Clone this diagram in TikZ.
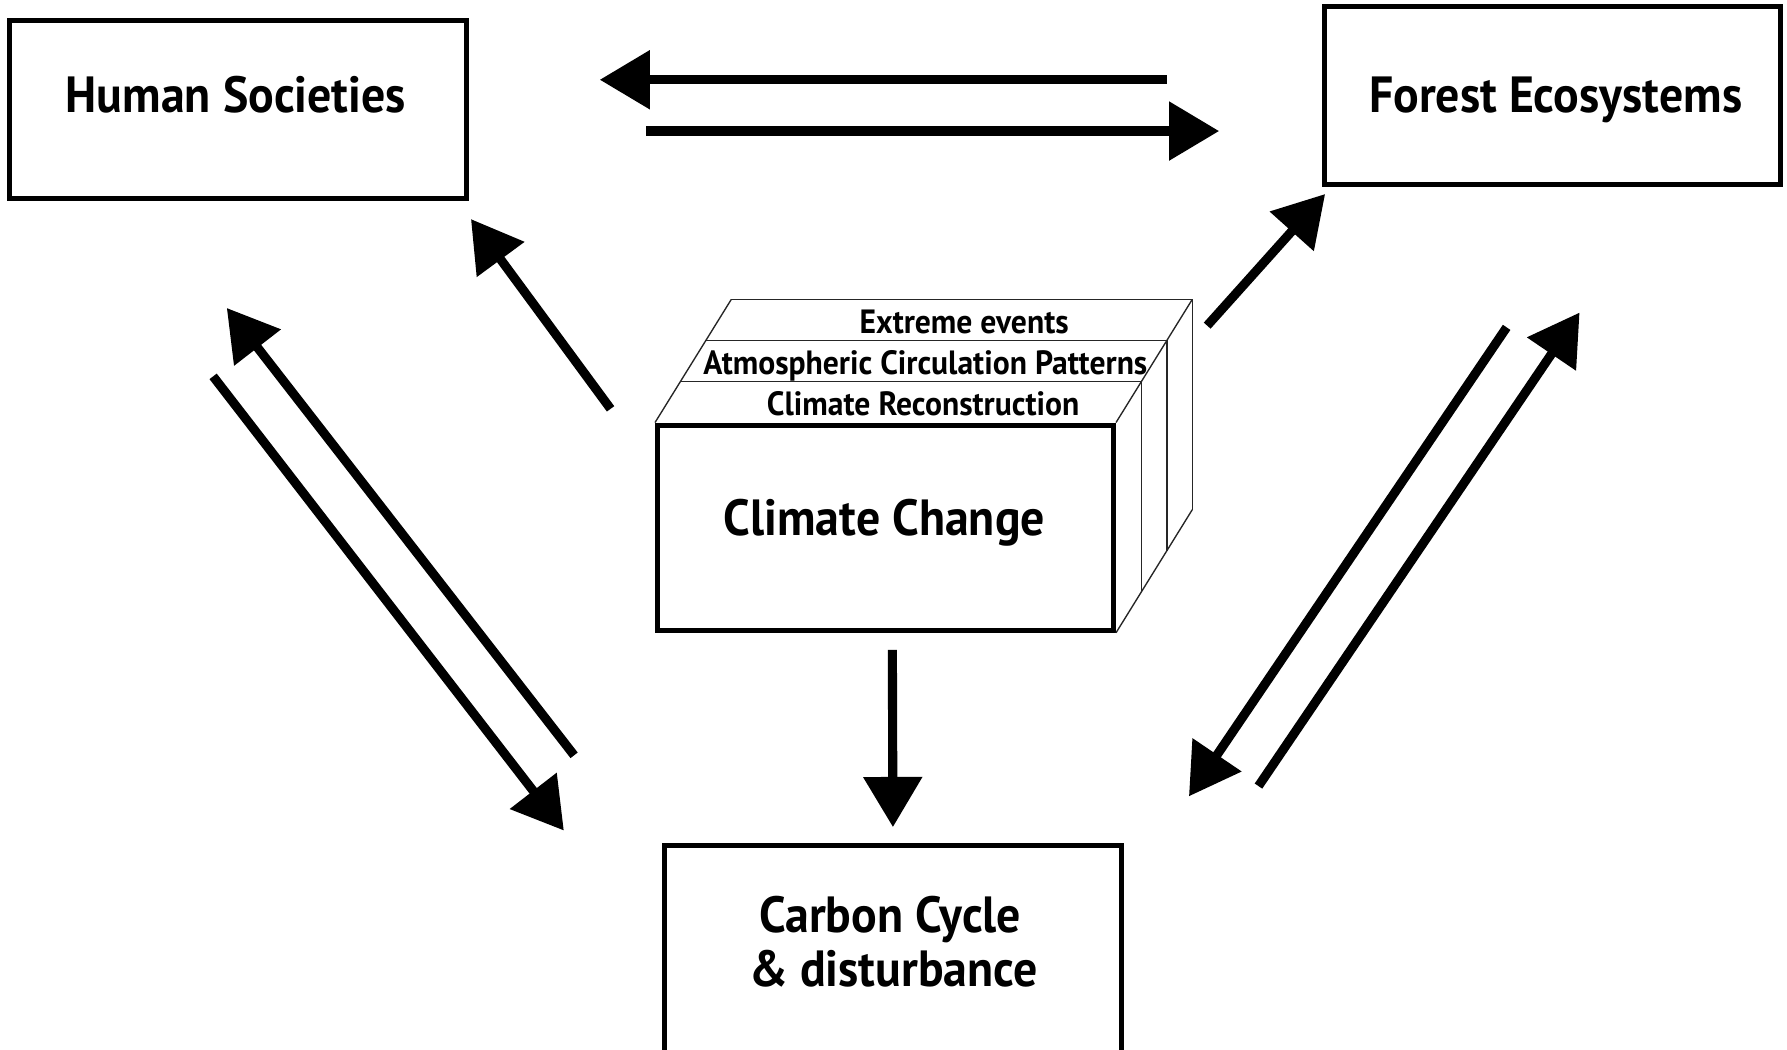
\documentclass[tikz,border=0pt]{standalone}
\usepackage{fontspec}
\setmainfont[FakeStretch=0.94]{PT Sans}
\usepackage{tikz}
\usetikzlibrary{positioning, arrows.meta, calc}
\tikzset{
  box/.style={
    rectangle, draw=black, line width=0.45mm,
    fill=white, inner sep=0pt
  },
  boxlabel/.style={
    inner sep=0pt, align=center, anchor=base,
    font=\bfseries\fontsize{12.7}{13.7}\selectfont
  },
  layerlabel/.style={
    inner sep=0pt, anchor=base,
    font=\bfseries\fontsize{8.4}{9}\selectfont
  },
  slab/.style={black!85, line width=0.12mm},
  flow/.style={
    -{Triangle[length=4.4mm, width=5mm]},
    line width=0.8mm
  }
}

\begin{document}
\begin{tikzpicture}[x=0.1mm, y=-0.1mm]
  \useasboundingbox (0,0) rectangle (1568,921);
  % the four boxes
  \node[box, minimum width=40.1mm, minimum height=15.6mm] (hum) at (208.5,96) {};
  \node[box, minimum width=40mm, minimum height=15.6mm] (forest) at (1362,84) {};
  \node[box, minimum width=40.1mm, minimum height=25.8mm] (carb) at (783.5,871) {};
  \node[box, minimum width=40mm, minimum height=18mm] (clim) at (777,463) {};
  \node[boxlabel] (humtxt) at (207,99) {Human Societies};
  \node[boxlabel] (foresttxt) at (1365,99) {Forest Ecosystems};
  \node[boxlabel] (carbtxt) at (781,818) {Carbon Cycle};
  \node[boxlabel] (carbtxt2) at (784,866) {\& disturbance};
  \node[boxlabel] (climtxt) at (776,470) {Climate Change};
  % layers stacked behind the climate box
  \foreach \i in {1,2,3} {
    \draw[slab] ($(clim.north west)+\i*(22.3,-36)$) -- ($(clim.north east)+\i*(22.3,-36)$)
      -- ($(clim.south east)+\i*(22.3,-36)$);
  }
  \draw[slab] (clim.north west) -- ++(66.9,-108);
  \draw[slab] (clim.north east) -- ++(66.9,-108);
  \draw[slab] (clim.south east) -- ++(66.9,-108);
  \node[layerlabel] (recon) at ($(clim.north)+(33,-6)$) {Climate Reconstruction};
  \node[layerlabel] (atmos) at ($(clim.north)+(35,-42)$) {Atmospheric Circulation Patterns};
  \node[layerlabel] (extreme) at ($(clim.north)+(69,-78)$) {Extreme events};
  % arrows
  \draw[flow] ($(forest.west)+(-136,-14)$) -- ($(hum.east)+(115,-26)$);
  \draw[flow] ($(hum.east)+(156,19)$) -- ($(forest.west)+(-90,31)$);
  \draw[flow] ($(clim.north west)+(-39,-12)$) -- ($(hum.south east)+(2,16)$);
  \draw[flow] ($(clim.north east)+(80,-85)$) -- ($(forest.south west)+(3,6)$);
  \draw[flow] ($(clim.south)+(6,15)$) -- ($(carb.north)+(0,-14)$);
  \draw[flow] ($(carb.north west)+(-77,-77)$) -- ($(hum.south)+(-9.5,94)$);
  \draw[flow] ($(hum.south)+(-21.5,154)$) -- ($(carb.north west)+(-86,-11)$);
  \draw[flow] ($(forest.south)+(-40,123)$) -- ($(carb.north east)+(57,-41)$);
  \draw[flow] ($(carb.north east)+(118,-50)$) -- ($(forest.south)+(24,110)$);
\end{tikzpicture}
\end{document}
